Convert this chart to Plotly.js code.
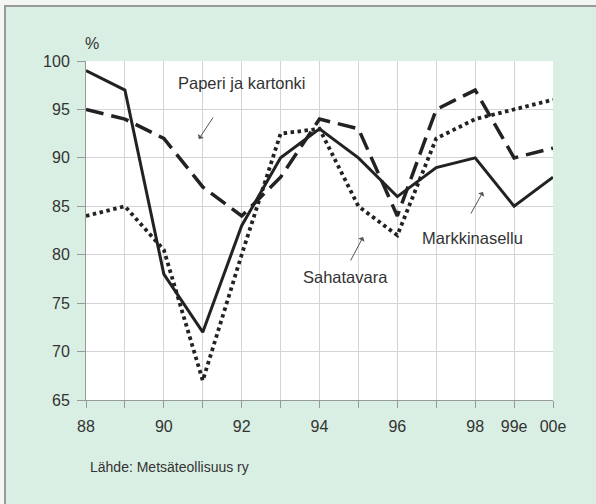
<!DOCTYPE html>
<html>
<head>
<meta charset="utf-8">
<script src="https://cdn.plot.ly/plotly-3.0.1.min.js"></script>
<style>
  html, body { margin: 0; padding: 0; background: #f4f6f4; }
  #bg { position: absolute; left: 4px; top: 5px; width: 592px; height: 499px;
        background: #daefe3; border-top: 2px solid #9a9a9a; border-left: 2px solid #9a9a9a; box-sizing: border-box; }
  #chart { position: absolute; left: 0; top: 0; width: 596px; height: 504px; }
</style>
</head>
<body>
<div id="bg"></div>
<div id="chart"></div>
<script>
const years = [88, 89, 90, 91, 92, 93, 94, 95, 96, 97, 98, 99, 100];
const tickLabels = ['88', '', '90', '', '92', '', '94', '', '96', '', '98', '99e', '00e'];
const markkinasellu = [99, 97, 78, 72, 83, 90, 93, 90, 86, 89, 90, 85, 88];
const paperiJaKartonki = [95, 94, 92, 87, 84, 88, 94, 93, 84, 95, 97, 90, 91];
const sahatavara = [84, 85, 80.5, 67, 80, 92.5, 93, 85, 82, 92, 94, 95, 96];
const yTicks = [65, 70, 75, 80, 85, 90, 95, 100];

const lineColor = '#222222';
const traces = [
  { x: years, y: paperiJaKartonki, name: 'Paperi ja kartonki', mode: 'lines',
    line: { color: lineColor, width: 3.5, dash: '18px,8px' } },
  { x: years, y: sahatavara, name: 'Sahatavara', mode: 'lines',
    line: { color: lineColor, width: 3.8, dash: '3.5px,3.5px' } },
  { x: years, y: markkinasellu, name: 'Markkinasellu', mode: 'lines',
    line: { color: lineColor, width: 3 } }
];

const txtFont = { family: 'Liberation Sans, Arial, sans-serif', size: 16.5, color: '#333' };
function arrow(x, y, ax, ay) {
  return { x: x, y: y, ax: ax, ay: ay, xref: 'x', yref: 'y', axref: 'x', ayref: 'y',
           text: '', showarrow: true, arrowhead: 1, arrowsize: 1.2, arrowwidth: 1, arrowcolor: '#555' };
}

const layout = {
  width: 596, height: 504,
  margin: { l: 86, r: 43, t: 61, b: 104 },
  paper_bgcolor: 'rgba(0,0,0,0)',
  plot_bgcolor: '#ffffff',
  showlegend: false,
  font: { family: 'Liberation Sans, Arial, sans-serif', size: 16, color: '#333' },
  xaxis: {
    range: [88, 100], tickvals: years, ticktext: tickLabels,
    showgrid: true, gridcolor: '#d4d4d4', gridwidth: 1,
    ticks: 'outside', ticklen: 7, tickcolor: '#999', tickwidth: 1,
    showline: true, linecolor: '#999', linewidth: 1,
    zeroline: false, ticklabelstandoff: 5,
    tickfont: { size: 16, color: '#333' }
  },
  yaxis: {
    range: [65, 100], tickvals: yTicks,
    showgrid: true, gridcolor: '#d4d4d4', gridwidth: 1,
    ticks: 'outside', ticklen: 8, tickcolor: '#999', tickwidth: 1,
    showline: true, linecolor: '#999', linewidth: 1,
    zeroline: false, ticklabelstandoff: 4,
    tickfont: { size: 16, color: '#333' }
  },
  annotations: [
    { x: 92.0, y: 97.7, xref: 'x', yref: 'y', text: 'Paperi ja kartonki', showarrow: false, font: txtFont },
    { x: 97.92, y: 81.7, xref: 'x', yref: 'y', text: 'Markkinasellu', showarrow: false, font: txtFont },
    { x: 94.68, y: 77.7, xref: 'x', yref: 'y', text: 'Sahatavara', showarrow: false, font: txtFont },
    arrow(90.9, 91.95, 91.29, 94.32),
    arrow(98.2, 86.48, 97.87, 84.1),
    arrow(95.12, 81.83, 94.78, 79.25),
    { x: 0.013, y: 1.053, xref: 'paper', yref: 'paper', xanchor: 'center', yanchor: 'middle', text: '%', showarrow: false,
      font: { size: 16, color: '#333' } },
    { x: 0.004, y: -0.198, xref: 'paper', yref: 'paper', xanchor: 'left', yanchor: 'middle', text: 'Lähde: Metsäteollisuus ry',
      showarrow: false, font: { size: 14, color: '#333' } }
  ]
};

Plotly.newPlot('chart', traces, layout, { displayModeBar: false, staticPlot: true });
</script>
</body>
</html>
